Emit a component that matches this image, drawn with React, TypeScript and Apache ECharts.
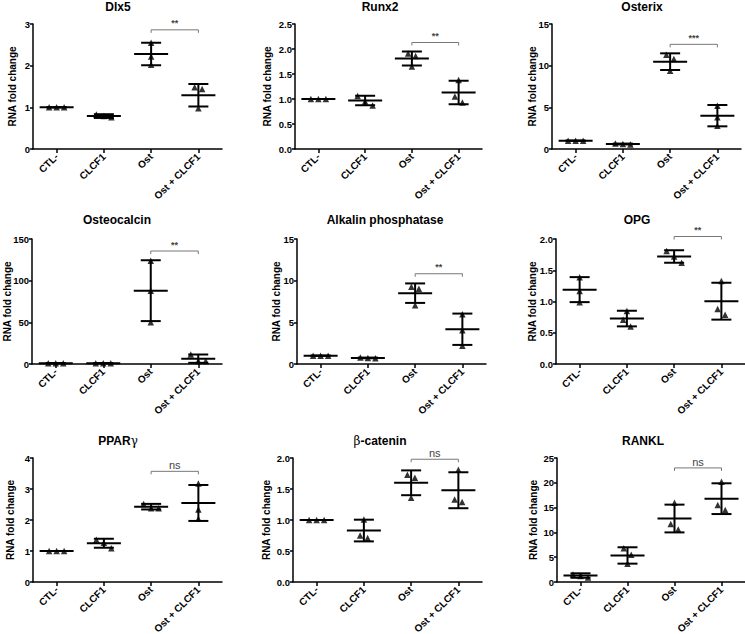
import React, { useEffect, useRef } from "react";
import * as echarts from "echarts";

const categories = ["CTL-", "CLCF1", "Ost", "Ost + CLCF1"];

const panelTitles = [
  "Dlx5",
  "Runx2",
  "Osterix",
  "Osteocalcin",
  "Alkalin phosphatase",
  "OPG",
  "PPAR{s|γ}",
  "{s|β}-catenin",
  "RANKL",
];

// individual replicate values (3 per group)
const dlx5Points = [[1, 1, 1], [0.83, 0.79, 0.76], [2.55, 2.22, 2.02], [1.48, 1.44, 0.98]];
const runx2Points = [[1, 1, 1], [1.06, 0.95, 0.87], [1.91, 1.86, 1.65], [1.38, 1.05, 0.93]];
const osterixPoints = [[1, 1, 1], [0.65, 0.6, 0.55], [11.3, 10.8, 9.4], [5.2, 3.8, 2.8]];
const osteocalcinPoints = [[1, 1, 1], [1, 1, 1], [124, 88, 50], [11.5, 3.6, 3.6]];
const alpPoints = [[1, 1, 1], [0.78, 0.72, 0.7], [9.27, 9.02, 7.06], [5.98, 4.05, 2.2]];
const opgPoints = [[1.39, 1.17, 0.99], [0.85, 0.71, 0.6], [1.81, 1.72, 1.62], [1.33, 0.88, 0.79]];
const pparPoints = [[1, 1, 1], [1.36, 1.27, 1.09], [2.52, 2.38, 2.38], [3.18, 2.34, 2.04]];
const bcatPoints = [[1, 1, 1], [1.01, 0.75, 0.71], [1.73, 1.68, 1.36], [1.81, 1.33, 1.29]];
const ranklPoints = [[1.5, 1.2, 0.9], [6.8, 5.5, 3.7], [16, 11.7, 10.6], [20.2, 15.5, 14.5]];

// group means and standard deviations
const dlx5Mean = [1, 0.79, 2.28, 1.29];
const dlx5Sd = [0, 0.045, 0.27, 0.27];
const runx2Mean = [1, 0.97, 1.81, 1.13];
const runx2Sd = [0, 0.095, 0.14, 0.235];
const osterixMean = [1, 0.6, 10.48, 4.0];
const osterixSd = [0, 0.05, 1.0, 1.28];
const osteocalcinMean = [1, 1, 88, 6.4];
const osteocalcinSd = [0, 0, 36.5, 5.0];
const alpMean = [1, 0.73, 8.5, 4.17];
const alpSd = [0, 0.04, 1.17, 1.88];
const opgMean = [1.19, 0.727, 1.72, 1.005];
const opgSd = [0.2, 0.125, 0.1, 0.295];
const pparMean = [1, 1.25, 2.43, 2.55];
const pparSd = [0, 0.145, 0.09, 0.58];
const bcatMean = [1, 0.83, 1.6, 1.48];
const bcatSd = [0, 0.175, 0.2, 0.29];
const ranklMean = [1.3, 5.35, 12.8, 16.8];
const ranklSd = [0.45, 1.65, 2.8, 3.1];

// significance between Ost and Ost + CLCF1
const sigLabels = ["**", "**", "***", "**", "**", "**", "ns", "ns", "ns"];
const bracketLevels = [2.86, 2.13, 12.56, 135.6, 10.83, 2.04, 3.57, 1.98, 23.0];

// y axis ranges
const yMax = [3, 2.5, 15, 150, 15, 2.0, 4, 2.0, 25];
const yInterval = [1, 0.5, 5, 50, 5, 0.5, 1, 0.5, 5];
const yDecimals = [0, 1, 0, 0, 0, 1, 0, 1, 0];

const allPoints = [dlx5Points, runx2Points, osterixPoints, osteocalcinPoints, alpPoints, opgPoints, pparPoints, bcatPoints, ranklPoints];
const allMeans = [dlx5Mean, runx2Mean, osterixMean, osteocalcinMean, alpMean, opgMean, pparMean, bcatMean, ranklMean];
const allSds = [dlx5Sd, runx2Sd, osterixSd, osteocalcinSd, alpSd, opgSd, pparSd, bcatSd, ranklSd];

// layout (pixels)
const layout = [
  { l: 33, r: 222, t: 24, b: 149, tx: 118, ty: 7, ng: 16 },
  { l: 295, r: 482, t: 24, b: 149, tx: 380, ty: 7, ng: 23 },
  { l: 552, r: 741, t: 24, b: 149, tx: 642, ty: 7, ng: 15 },
  { l: 32, r: 222, t: 239, b: 364, tx: 117, ty: 220, ng: 20 },
  { l: 297, r: 486, t: 239, b: 364, tx: 385, ty: 220, ng: 16 },
  { l: 556, r: 745, t: 239, b: 364, tx: 637, ty: 220, ng: 19 },
  { l: 33, r: 222, t: 458, b: 582, tx: 118, ty: 441, ng: 18 },
  { l: 293, r: 482, t: 458, b: 582, tx: 380, ty: 441, ng: 22 },
  { l: 557, r: 745, t: 458, b: 582, tx: 643, ty: 441, ng: 19 },
];

const FONT = "'Liberation Sans', Arial, Helvetica, sans-serif";

function jitter(vals: number[], pxPerUnit: number): number[] {
  const idx = vals.map((_, i) => i).sort((a, b) => vals[b] - vals[a]);
  const offsets = new Array(vals.length).fill(0);
  let cluster: number[] = [idx[0]];
  const flush = () => {
    const n = cluster.length;
    cluster.forEach((k, j) => {
      offsets[k] = (j - (n - 1) / 2) * 7.5;
    });
  };
  for (let j = 1; j < idx.length; j++) {
    if ((vals[idx[j - 1]] - vals[idx[j]]) * pxPerUnit < 7) cluster.push(idx[j]);
    else {
      flush();
      cluster = [idx[j]];
    }
  }
  flush();
  return offsets;
}

function buildOption() {
  const grid: any[] = [];
  const xAxis: any[] = [];
  const yAxis: any[] = [];
  const series: any[] = [];
  const graphic: any[] = [];

  layout.forEach((L, i) => {
    grid.push({
      left: L.l,
      top: L.t,
      width: L.r - L.l,
      height: L.b - L.t,
      containLabel: false,
      outerBoundsMode: "none",
    });
    xAxis.push({
      type: "category",
      gridIndex: i,
      data: categories,
      boundaryGap: true,
      axisLine: { show: true, lineStyle: { color: "#000", width: 1.5 } },
      axisTick: { show: true, alignWithLabel: true, length: 4, lineStyle: { color: "#000", width: 1.5 } },
      axisLabel: {
        rotate: 45,
        interval: 0,
        margin: 6,
        fontSize: 10,
        fontWeight: "bold",
        fontFamily: FONT,
        color: "#000",
      },
      splitLine: { show: false },
    });
    const dec = yDecimals[i];
    yAxis.push({
      type: "value",
      gridIndex: i,
      min: 0,
      max: yMax[i],
      interval: yInterval[i],
      name: "RNA fold change",
      nameLocation: "middle",
      nameRotate: 90,
      nameGap: L.ng,
      nameMoveOverlap: false,
      nameTextStyle: { fontSize: 10, fontWeight: "bold", fontFamily: FONT, color: "#000" },
      axisLine: { show: true, lineStyle: { color: "#000", width: 1.5 } },
      axisTick: { show: true, length: 3, lineStyle: { color: "#000", width: 1.5 } },
      axisLabel: {
        margin: 3,
        fontSize: 9.5,
        fontWeight: "bold",
        fontFamily: FONT,
        color: "#000",
        formatter: (v: number) => v.toFixed(dec),
      },
      splitLine: { show: false },
    });

    const pxPerUnit = (L.b - L.t) / yMax[i];
    const scatterData: any[] = [];
    allPoints[i].forEach((vals, g) => {
      const offs = jitter(vals, pxPerUnit);
      vals.forEach((v, k) => {
        scatterData.push({ value: [g, v], symbolOffset: [offs[k], 0] });
      });
    });
    series.push({
      type: "scatter",
      xAxisIndex: i,
      yAxisIndex: i,
      symbol: "triangle",
      symbolSize: 6.5,
      itemStyle: { color: "#000" },
      data: scatterData,
      z: 2,
    });

    const means = allMeans[i];
    const sds = allSds[i];
    series.push({
      type: "custom",
      xAxisIndex: i,
      yAxisIndex: i,
      clip: false,
      z: 3,
      data: means.map((m, g) => [g, m, sds[g]]),
      encode: { x: 0, y: 1 },
      renderItem: (params: any, api: any) => {
        const g = api.value(0);
        const m = api.value(1);
        const s = api.value(2);
        const c = api.coord([g, m]);
        const top = api.coord([g, m + s]);
        const bot = api.coord([g, m - s]);
        const st = { stroke: "#000", lineWidth: 2 };
        return {
          type: "group",
          children: [
            { type: "line", shape: { x1: c[0] - 17, y1: c[1], x2: c[0] + 17, y2: c[1] }, style: st },
            { type: "line", shape: { x1: c[0], y1: top[1], x2: c[0], y2: bot[1] }, style: st },
            { type: "line", shape: { x1: c[0] - 10, y1: top[1], x2: c[0] + 10, y2: top[1] }, style: st },
            { type: "line", shape: { x1: c[0] - 10, y1: bot[1], x2: c[0] + 10, y2: bot[1] }, style: st },
          ],
        };
      },
    });

    const label = sigLabels[i];
    const isNs = label === "ns";
    series.push({
      type: "custom",
      xAxisIndex: i,
      yAxisIndex: i,
      clip: false,
      z: 4,
      data: [[2, 3, bracketLevels[i]]],
      encode: { x: 0, y: 2 },
      renderItem: (params: any, api: any) => {
        const a = api.coord([api.value(0), api.value(2)]);
        const b = api.coord([api.value(1), api.value(2)]);
        const y = a[1];
        return {
          type: "group",
          children: [
            {
              type: "polyline",
              shape: { points: [[a[0], y + 3], [a[0], y], [b[0], y], [b[0], y + 3]] },
              style: { stroke: "#777", lineWidth: 1, fill: "none" },
            },
            {
              type: "text",
              x: (a[0] + b[0]) / 2,
              y: isNs ? y - 0.5 : y - 2,
              style: {
                text: label,
                align: "center",
                verticalAlign: "bottom",
                fontSize: isNs ? 11 : 9,
                fontWeight: isNs ? "normal" : "bold",
                fontFamily: FONT,
                fill: "#444",
              },
            },
          ],
        };
      },
    });

    graphic.push({
      type: "text",
      x: L.tx,
      y: L.ty,
      style: {
        text: panelTitles[i],
        align: "center",
        verticalAlign: "middle",
        fontSize: 12,
        fontWeight: "bold",
        fontFamily: FONT,
        fill: "#000",
        rich: {
          s: { fontSize: 12, fontWeight: "normal", fontFamily: "'DejaVu Serif', serif", fill: "#000" },
        },
      },
    });
  });

  return {
    animation: false,
    backgroundColor: "#fff",
    grid,
    xAxis,
    yAxis,
    series,
    graphic,
  };
}

export default function App() {
  const ref = useRef<HTMLDivElement>(null);
  useEffect(() => {
    if (!ref.current) return;
    const chart = echarts.init(ref.current, null, { renderer: "svg" });
    chart.setOption(buildOption() as any);
    return () => chart.dispose();
  }, []);
  return (
    <div
      ref={ref}
      style={{ position: "absolute", left: 0, top: 0, width: 745, height: 634, background: "#fff" }}
    />
  );
}
